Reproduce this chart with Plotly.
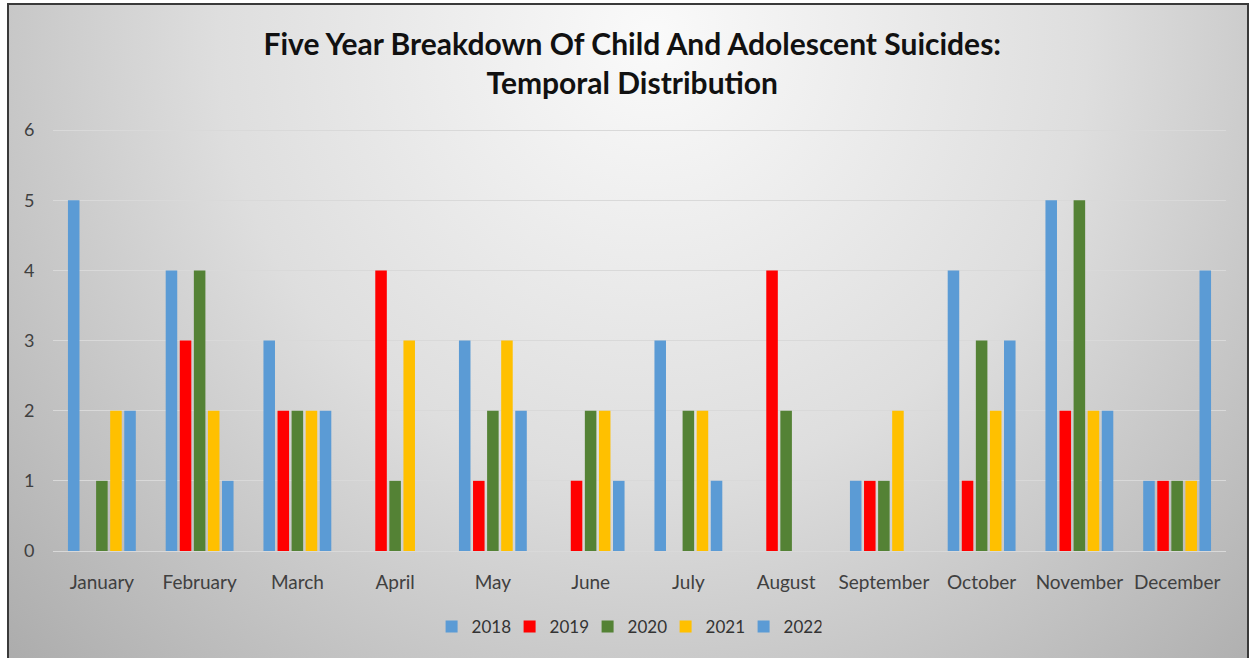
import base64
import plotly.graph_objects as go

months = ["January", "February", "March", "April", "May", "June", "July",
          "August", "September", "October", "November", "December"]
y2018 = [5, 4, 3, 0, 3, 0, 3, 0, 1, 4, 5, 1]
y2019 = [0, 3, 2, 4, 1, 1, 0, 4, 1, 1, 2, 1]
y2020 = [1, 4, 2, 1, 2, 2, 2, 2, 1, 3, 5, 1]
y2021 = [2, 2, 2, 3, 3, 2, 2, 0, 2, 2, 2, 1]
y2022 = [2, 1, 2, 0, 2, 1, 1, 0, 0, 3, 2, 4]

series = [("2018", y2018, "#5B9BD5"), ("2019", y2019, "#FF0000"),
          ("2020", y2020, "#548235"), ("2021", y2021, "#FFC000"),
          ("2022", y2022, "#5B9BD5")]

fig = go.Figure()
for name, vals, col in series:
    fig.add_trace(go.Bar(x=months, y=vals, name=name, marker_color=col,
                         marker_line_width=0))

svg = ('<svg xmlns="http://www.w3.org/2000/svg" width="1240" height="660" '
       'preserveAspectRatio="none" viewBox="0 0 1240 660">'
       '<defs><radialGradient id="g" cx="52%" cy="5%" r="78%" '
       'gradientTransform="translate(0.52,0.05) scale(1,1.9) translate(-0.52,-0.05)">'
       '<stop offset="0" stop-color="#fafafa"/>'
       '<stop offset="0.45" stop-color="#dedede"/>'
       '<stop offset="1" stop-color="#a4a4a4"/>'
       '</radialGradient></defs>'
       '<rect width="1240" height="660" fill="url(#g)"/></svg>')
src = "data:image/svg+xml;base64," + base64.b64encode(svg.encode()).decode()

L, R, T, B = 53, 26, 128, 107
W = 1252 - L - R
H = 658 - T - B
def px(x):
    return (x - L) / W
def py(y):
    return (658 - B - y) / H

fig.add_layout_image(dict(source=src, xref="paper", yref="paper",
                          x=px(8), y=py(4), sizex=px(1248) - px(8),
                          sizey=py(4) - py(662), sizing="stretch",
                          layer="below", xanchor="left", yanchor="top"))
fig.add_shape(type="rect", xref="paper", yref="paper",
              x0=px(8), x1=px(1248), y0=py(662), y1=py(4),
              line=dict(color="#3a3a3a", width=2), layer="above")

fig.update_layout(
    width=1252, height=658,
    margin=dict(l=L, r=R, t=T, b=B),
    paper_bgcolor="white",
    plot_bgcolor="rgba(0,0,0,0)",
    title=dict(text="<b>Five Year Breakdown Of Child And Adolescent Suicides:<br>Temporal Distribution</b>",
               x=0.505, xanchor="center", y=1 - 55 / 658, yanchor="middle",
               yref="container",
               font=dict(family="Lato", size=30, color="#111111")),
    barmode="group", bargap=0.28, bargroupgap=0.18,
    font=dict(family="Lato", size=16, color="#404040"),
    legend=dict(orientation="h", x=0.489, xanchor="center", y=py(627),
                yanchor="middle", font=dict(size=17, color="#333333"),
                bgcolor="rgba(0,0,0,0)", traceorder="normal",
                itemwidth=30, entrywidth=33, entrywidthmode="pixels"),
    showlegend=True,
)
fig.update_xaxes(showgrid=False, ticks="outside", ticklen=14,
                 tickcolor="rgba(0,0,0,0)", showline=True, linecolor="#d9d9d9",
                 tickfont=dict(size=19, color="#404040"))
fig.update_yaxes(range=[0, 6.03], dtick=1, showgrid=True, gridcolor="#d9d9d9",
                 gridwidth=1, zeroline=False, ticks="outside", ticklen=14,
                 tickcolor="rgba(0,0,0,0)",
                 tickfont=dict(size=18, color="#404040"))

fig.write_html("out.html", config={"displayModeBar": False},
               post_script="document.body.style.margin='0';document.body.style.overflow='hidden';")
